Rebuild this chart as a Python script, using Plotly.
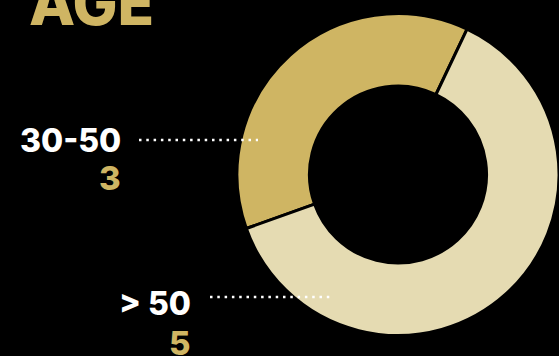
import plotly.graph_objects as go

# Data
categories = ["30-50", "> 50"]
counts = [3, 5]
slice_colors = ["#CFB563", "#E5DBB2"]
title_text = "AGE"

W, H = 559, 356
GOLD = "#CFB563"
FONT = "Inter"

def px_x(x):
    return x / W

def px_y(y):
    return 1 - y / H

fig = go.Figure()
fig.add_trace(go.Pie(
    labels=categories,
    values=counts,
    hole=0.55,
    sort=False,
    direction="clockwise",
    rotation=250.4,
    textinfo="none",
    hoverinfo="label+value",
    marker=dict(colors=slice_colors, line=dict(color="#000000", width=3)),
    domain=dict(x=[px_x(237), 1], y=[px_y(338), px_y(11)]),
    showlegend=False,
))

annotations = []
# Title
annotations.append(dict(
    text=title_text, x=px_x(27), y=px_y(3), xref="paper", yref="paper",
    xanchor="left", yanchor="middle", showarrow=False,
    font=dict(family=FONT, size=60, color=GOLD, weight=800),
))
# Category labels and values
label_pos = [(123, 140, 178), (193, 303, 343)]
for cat, val, (xr, yl, yv) in zip(categories, counts, label_pos):
    annotations.append(dict(
        text=cat, x=px_x(xr), y=px_y(yl), xref="paper", yref="paper",
        xanchor="right", yanchor="middle", showarrow=False,
        font=dict(family=FONT, size=32, color="#FFFFFF", weight=800),
    ))
    annotations.append(dict(
        text=str(val), x=px_x(xr), y=px_y(yv), xref="paper", yref="paper",
        xanchor="right", yanchor="middle", showarrow=False,
        font=dict(family=FONT, size=33, color=GOLD, weight=800),
    ))

# Dotted leader lines
leaders = [(139, 258, 140), (210, 330, 297)]
shapes = []
for x0, x1, y in leaders:
    shapes.append(dict(
        type="line", xref="paper", yref="paper",
        x0=px_x(x0), x1=px_x(x1), y0=px_y(y), y1=px_y(y),
        line=dict(color="#FFFFFF", width=2.5, dash="2.5px,4.8px"),
        layer="above",
    ))

fig.update_layout(
    width=W, height=H,
    margin=dict(l=0, r=0, t=0, b=0),
    paper_bgcolor="#000000",
    plot_bgcolor="#000000",
    annotations=annotations,
    shapes=shapes,
)

fig.write_html(
    "out.html",
    config={"displayModeBar": False},
    post_script="document.body.style.margin='0';document.body.style.background='#000';document.body.style.overflow='hidden';",
)
